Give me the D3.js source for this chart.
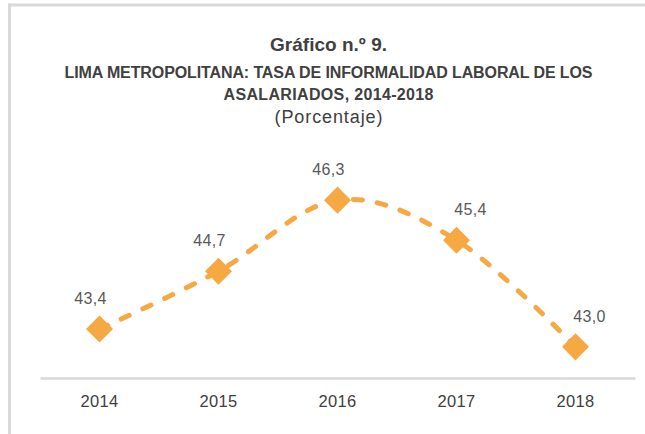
<!DOCTYPE html>
<html>
<head>
<meta charset="utf-8">
<script src="https://cdn.jsdelivr.net/npm/d3@7"></script>
<style>
  html, body { margin: 0; padding: 0; background: #ffffff; }
  svg { display: block; }
</style>
</head>
<body>
<script>
// ---- Data ----
const years = ["2014", "2015", "2016", "2017", "2018"];
const values = [43.4, 44.7, 46.3, 45.4, 43.0];
const valueLabels = ["43,4", "44,7", "46,3", "45,4", "43,0"];
const titleLines = [
  "Gráfico n.º 9.",
  "LIMA METROPOLITANA: TASA DE INFORMALIDAD LABORAL DE LOS",
  "ASALARIADOS, 2014-2018",
  "(Porcentaje)"
];

const W = 645, H = 434;
const svg = d3.select("body").append("svg").attr("width", W).attr("height", H);

// frame
svg.append("line").attr("x1", 8).attr("x2", W).attr("y1", 5).attr("y2", 5)
  .attr("stroke", "#d9d9d9").attr("stroke-width", 3);
svg.append("line").attr("x1", 9.5).attr("x2", 9.5).attr("y1", 3.5).attr("y2", H)
  .attr("stroke", "#d9d9d9").attr("stroke-width", 3);

// titles
const titleStyles = [
  { y: 51, size: 19, weight: "bold", len: 117 },
  { y: 78, size: 16, weight: "bold", len: 528 },
  { y: 100, size: 16, weight: "bold", len: 210 },
  { y: 123, size: 18, weight: "normal", len: 108 }
];
svg.selectAll("text.title").data(titleLines).join("text")
  .attr("class", "title")
  .attr("x", 328.5)
  .attr("y", (d, i) => titleStyles[i].y)
  .attr("text-anchor", "middle")
  .attr("font-family", "'Liberation Sans', Arial, sans-serif")
  .attr("font-size", (d, i) => titleStyles[i].size)
  .attr("font-weight", (d, i) => titleStyles[i].weight)
  .attr("textLength", (d, i) => titleStyles[i].len)
  .attr("fill", "#404040")
  .text(d => d);

// scales
const x = d3.scaleBand().domain(years).range([40, 635]).padding(0);
const y = d3.scaleLinear().domain([42.3, 47]).range([378, 169]);
const cx = d => x(d) + x.bandwidth() / 2;

// axis
const axis = svg.append("g").attr("transform", "translate(0,378)")
  .call(d3.axisBottom(x).tickSize(0).tickPadding(0));
axis.select(".domain").attr("stroke", "#d9d9d9").attr("stroke-width", 2.5);
axis.selectAll("text")
  .attr("dy", null).attr("y", 29)
  .attr("font-family", "'Liberation Sans', Arial, sans-serif")
  .attr("font-size", 16.5)
  .attr("letter-spacing", 0.3)
  .attr("fill", "#404040");

const pts = years.map((yr, i) => ({ yr, v: values[i], lab: valueLabels[i] }));

// line
const line = d3.line().x(d => cx(d.yr)).y(d => y(d.v)).curve(d3.curveCatmullRom.alpha(0));
svg.append("path").datum(pts)
  .attr("d", line)
  .attr("fill", "none")
  .attr("stroke", "#F6A843")
  .attr("stroke-width", 5)
  .attr("stroke-linecap", "round")
  .attr("stroke-dasharray", "9,15");

// markers
svg.selectAll("path.mk").data(pts).join("path")
  .attr("class", "mk")
  .attr("d", d3.symbol(d3.symbolSquare, 365))
  .attr("transform", d => `translate(${cx(d.yr)},${y(d.v)}) rotate(45)`)
  .attr("fill", "#F6A843");

// labels
const peak = d3.maxIndex(values);
svg.selectAll("text.lab").data(pts).join("text")
  .attr("class", "lab")
  .attr("x", (d, i) => cx(d.yr) + (i <= peak ? -9 : 14))
  .attr("y", d => y(d.v) - 25)
  .attr("text-anchor", "middle")
  .attr("font-family", "'Liberation Sans', Arial, sans-serif")
  .attr("font-size", 16)
  .attr("letter-spacing", 0.4)
  .attr("fill", "#595959")
  .text(d => d.lab);
</script>
</body>
</html>
